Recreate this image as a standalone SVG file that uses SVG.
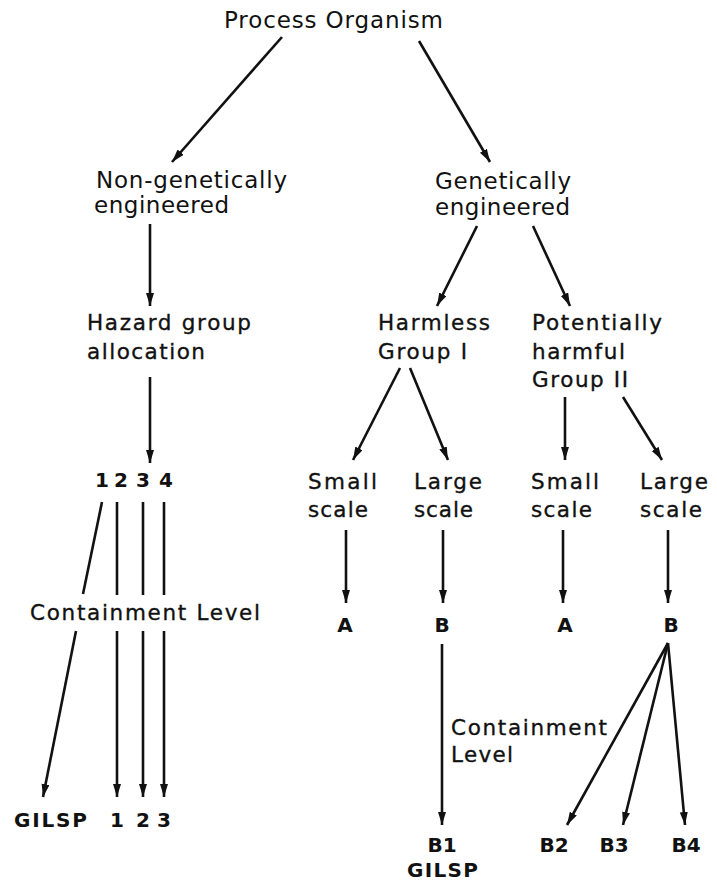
<svg xmlns="http://www.w3.org/2000/svg" width="717" height="883" viewBox="0 0 717 883">
<style>
text{font-family:"DejaVu Sans","Liberation Sans",Arial,sans-serif;fill:#111;}
.t1{font-size:23px;}
.t2{font-size:23px;}
.t3{font-size:21.5px;stroke:#111;stroke-width:0.35px;}
.b{font-size:20px;font-weight:bold;text-anchor:middle;}
.bl{font-size:20px;font-weight:bold;}
.c line{stroke:#111;stroke-width:2.6;fill:none;}
</style>
<defs>
<marker id="ah" markerUnits="userSpaceOnUse" markerWidth="14" markerHeight="10" refX="13" refY="4" orient="auto">
<path d="M0,0 L13,4 L0,8 z" fill="#111"/>
</marker>
</defs>
<rect width="717" height="883" fill="#fff"/>
<g class="c" id="connectors">
<line x1="282" y1="37" x2="172" y2="162" marker-end="url(#ah)"/>
<line x1="419" y1="41" x2="490" y2="162" marker-end="url(#ah)"/>
<line x1="150" y1="224" x2="150" y2="306" marker-end="url(#ah)"/>
<line x1="150" y1="377" x2="150" y2="463" marker-end="url(#ah)"/>
<line x1="102" y1="502" x2="83" y2="594"/>
<line x1="76" y1="631" x2="43" y2="797" marker-end="url(#ah)"/>
<line x1="117" y1="502" x2="117" y2="595"/>
<line x1="117" y1="631" x2="117" y2="797" marker-end="url(#ah)"/>
<line x1="143" y1="502" x2="143" y2="595"/>
<line x1="143" y1="631" x2="143" y2="797" marker-end="url(#ah)"/>
<line x1="164" y1="502" x2="164" y2="595"/>
<line x1="164" y1="631" x2="164" y2="797" marker-end="url(#ah)"/>
<line x1="477" y1="226" x2="437" y2="306" marker-end="url(#ah)"/>
<line x1="533" y1="226" x2="570" y2="306" marker-end="url(#ah)"/>
<line x1="400" y1="368" x2="353" y2="460" marker-end="url(#ah)"/>
<line x1="410" y1="368" x2="448" y2="460" marker-end="url(#ah)"/>
<line x1="565" y1="397" x2="565" y2="460" marker-end="url(#ah)"/>
<line x1="623" y1="397" x2="662" y2="460" marker-end="url(#ah)"/>
<line x1="346" y1="530" x2="346" y2="603" marker-end="url(#ah)"/>
<line x1="443" y1="530" x2="443" y2="603" marker-end="url(#ah)"/>
<line x1="563" y1="530" x2="563" y2="603" marker-end="url(#ah)"/>
<line x1="668" y1="530" x2="668" y2="603" marker-end="url(#ah)"/>
<line x1="442" y1="644" x2="442" y2="825" marker-end="url(#ah)"/>
<line x1="668" y1="643" x2="567" y2="825" marker-end="url(#ah)"/>
<line x1="668" y1="643" x2="623" y2="825" marker-end="url(#ah)"/>
<line x1="668" y1="643" x2="685" y2="825" marker-end="url(#ah)"/>
</g>
<g id="process-organism"><text class="t1" x="224" y="28" textLength="219" lengthAdjust="spacing">Process Organism</text></g>
<g id="non-ge"><text class="t2" x="96" y="188" textLength="191" lengthAdjust="spacing">Non-genetically</text><text class="t2" x="94" y="213" textLength="135" lengthAdjust="spacing">engineered</text></g>
<g id="ge"><text class="t2" x="435" y="189" textLength="136" lengthAdjust="spacing">Genetically</text><text class="t2" x="435" y="215" textLength="135" lengthAdjust="spacing">engineered</text></g>
<g id="hazard"><text class="t3" x="87" y="330" textLength="164" lengthAdjust="spacing">Hazard group</text><text class="t3" x="87" y="359" textLength="118" lengthAdjust="spacing">allocation</text></g>
<g id="groups-1234"><text class="b" x="102" y="487">1</text><text class="b" x="121" y="487">2</text><text class="b" x="143" y="487">3</text><text class="b" x="166" y="487">4</text></g>
<g id="containment-left"><text class="t3" x="30" y="620" textLength="230" lengthAdjust="spacing">Containment Level</text></g>
<g id="gilsp-left"><text class="bl" x="14" y="827" textLength="73" lengthAdjust="spacing">GILSP</text></g>
<g id="levels-123"><text class="b" x="117" y="827">1</text><text class="b" x="143" y="827">2</text><text class="b" x="164" y="827">3</text></g>
<g id="harmless"><text class="t3" x="378" y="330" textLength="112" lengthAdjust="spacing">Harmless</text><text class="t3" x="378" y="359" textLength="89" lengthAdjust="spacing">Group I</text></g>
<g id="potentially"><text class="t3" x="532" y="330" textLength="130" lengthAdjust="spacing">Potentially</text><text class="t3" x="532" y="359" textLength="93" lengthAdjust="spacing">harmful</text><text class="t3" x="532" y="387" textLength="96" lengthAdjust="spacing">Group II</text></g>
<g id="small-1"><text class="t3" x="308" y="489" textLength="69" lengthAdjust="spacing">Small</text><text class="t3" x="308" y="517" textLength="60" lengthAdjust="spacing">scale</text></g>
<g id="large-1"><text class="t3" x="414" y="489" textLength="68" lengthAdjust="spacing">Large</text><text class="t3" x="414" y="517" textLength="59" lengthAdjust="spacing">scale</text></g>
<g id="small-2"><text class="t3" x="531" y="489" textLength="68" lengthAdjust="spacing">Small</text><text class="t3" x="531" y="517" textLength="61" lengthAdjust="spacing">scale</text></g>
<g id="large-2"><text class="t3" x="640" y="489" textLength="68" lengthAdjust="spacing">Large</text><text class="t3" x="640" y="517" textLength="62" lengthAdjust="spacing">scale</text></g>
<g id="a-1"><text class="b" x="345" y="632">A</text></g>
<g id="b-1"><text class="b" x="442" y="632">B</text></g>
<g id="a-2"><text class="b" x="565" y="632">A</text></g>
<g id="b-2"><text class="b" x="671" y="632">B</text></g>
<g id="containment-right"><text class="t3" x="451" y="735" textLength="156" lengthAdjust="spacing">Containment</text><text class="t3" x="451" y="762" textLength="62" lengthAdjust="spacing">Level</text></g>
<g id="b1"><text class="b" x="442" y="852">B1</text><text class="bl" x="407" y="877" textLength="71" lengthAdjust="spacing">GILSP</text></g>
<g id="b2"><text class="b" x="554" y="852">B2</text></g>
<g id="b3"><text class="b" x="614" y="852">B3</text></g>
<g id="b4"><text class="b" x="686" y="852">B4</text></g>
</svg>
